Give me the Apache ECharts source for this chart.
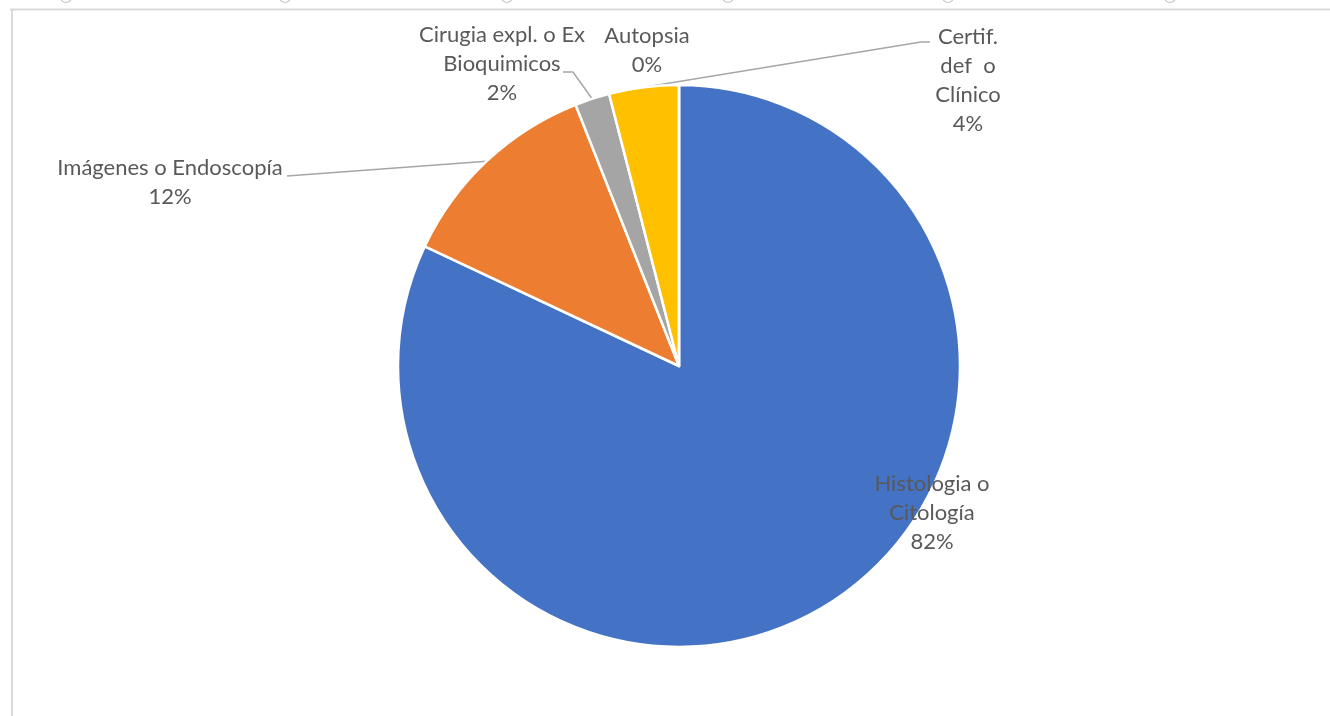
<!DOCTYPE html>
<html>
<head>
<meta charset="utf-8">
<script src="https://cdn.jsdelivr.net/npm/echarts@6/dist/echarts.min.js"></script>
<style>
html,body{margin:0;padding:0;background:#fff;}
#chart{width:1330px;height:716px;}
</style>
</head>
<body>
<div id="chart"></div>
<script>
// Data
const categories = ['Histologia o\nCitología', 'Imágenes o Endoscopía', 'Cirugia expl. o Ex\nBioquimicos', 'Certif.\ndef  o\nClínico', 'Autopsia'];
const values = [82, 12, 2, 4, 0];
const colors = ['#4472C4', '#ED7D31', '#A5A5A5', '#FFC000', '#5B9BD5'];

// Layout (label placement, as in the original)
const CENTER = [679, 366];
const RADIUS = 281;
const labelPos = [[932, 513], [170, 182], [502, 64], [968, 80], [647, 50]];
const leaderStart = [null, [[287, 176]], [[563, 72], [573, 72]], [[930, 42], [921, 42]], null];

const total = values.reduce((a, b) => a + b, 0);
function midAnchor(i) {
  let before = 0;
  for (let k = 0; k < i; k++) before += values[k];
  const mid = (before + values[i] / 2) / total * 2 * Math.PI; // clockwise from top
  return [CENTER[0] + RADIUS * Math.sin(mid), CENTER[1] - RADIUS * Math.cos(mid)];
}

const chart = echarts.init(document.getElementById('chart'), null, {renderer: 'canvas'});

const handleXs = [66, 285, 507, 728, 948, 1170];
const graphics = [
  {type: 'line', shape: {x1: 10, y1: 9.5, x2: 1330, y2: 9.5}, style: {stroke: '#d9d9d9', lineWidth: 2}, silent: true},
  {type: 'line', shape: {x1: 12, y1: 9, x2: 12, y2: 716}, style: {stroke: '#d9d9d9', lineWidth: 2}, silent: true}
].concat(handleXs.map(x => ({
  type: 'circle', shape: {cx: x, cy: -3, r: 5.5}, style: {fill: '#fff', stroke: '#c8c8c8', lineWidth: 1.2}, silent: true
})));

chart.setOption({
  animation: false,
  backgroundColor: '#fff',
  graphic: graphics,
  series: [{
    type: 'pie',
    center: CENTER,
    radius: RADIUS,
    startAngle: 90,
    clockwise: true,
    avoidLabelOverlap: false,
    stillShowZeroSum: true,
    itemStyle: {borderColor: '#fff', borderWidth: 2.5},
    label: {
      show: true,
      position: 'outside',
      fontFamily: 'Lato',
      fontSize: 22,
      lineHeight: 29,
      color: '#595959',
      align: 'center',
      formatter: p => p.name + '\n' + Math.round(p.percent) + '%'
    },
    labelLine: {show: true, lineStyle: {color: '#a6a6a6', width: 1.5}, length: 10, length2: 10},
    labelLayout: function (params) {
      const i = params.dataIndex;
      const res = {x: labelPos[i][0], y: labelPos[i][1], align: 'center', verticalAlign: 'middle'};
      if (leaderStart[i]) {
        res.labelLinePoints = leaderStart[i].concat([midAnchor(i)]);
      }
      return res;
    },
    data: categories.map((c, i) => ({
      name: c,
      value: values[i],
      itemStyle: {color: colors[i]},
      labelLine: {show: !!leaderStart[i]}
    }))
  }]
});
</script>
</body>
</html>
